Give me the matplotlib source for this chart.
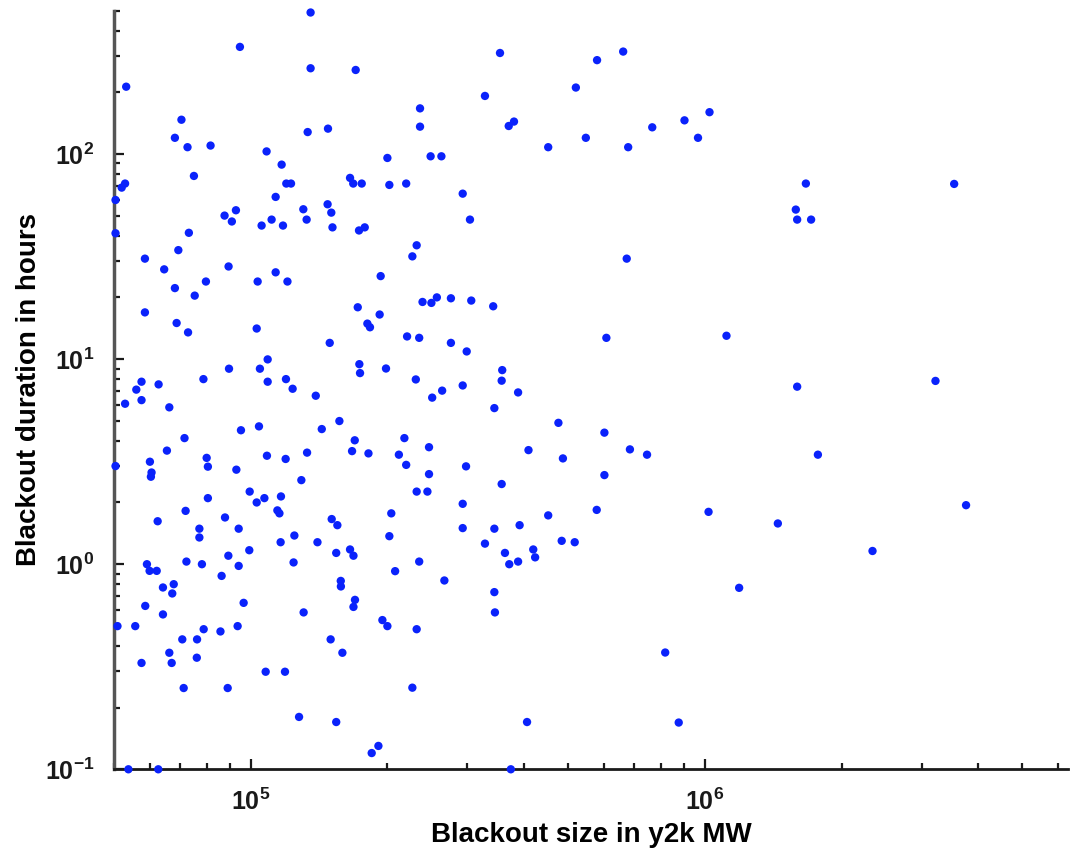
import matplotlib
matplotlib.use("Agg")
import matplotlib.pyplot as plt
from matplotlib.ticker import LogLocator, NullFormatter

plt.rcParams["font.family"] = ["Liberation Sans", "DejaVu Sans"]
plt.rcParams["font.weight"] = "bold"
plt.rcParams["axes.labelweight"] = "bold"
plt.rcParams["mathtext.fontset"] = "custom"
plt.rcParams["mathtext.rm"] = "Liberation Sans:bold"
plt.rcParams["mathtext.it"] = "Liberation Sans:bold:italic"
plt.rcParams["mathtext.bf"] = "Liberation Sans:bold"

# blackout size (y2k MW) and duration (hours)
blackout_size_mw = [
    135500, 94700, 135500, 53200, 70400, 68100, 72600, 81600, 133500, 148000,
    108400, 117000, 75000, 52900, 52000, 50400, 119800, 122700, 113500, 130600,
    132800, 147700, 150500, 151400, 87600, 92800, 90900, 105700, 111200, 117800,
    50400, 73100, 69300, 58500, 89400,
    354000, 170300, 328000, 236000, 236000, 370000, 380000, 452000, 200000, 249000,
    263000, 165500, 168200, 175600, 202000, 220000, 293000, 173200, 178300, 304000,
    232000, 227000,
    64500, 113500, 79700, 103600, 120500, 68100, 75300, 58500, 68700, 72800,
    103100, 149300, 109000, 89600, 104800, 57500, 62700, 78700, 109000, 119600,
    123700, 56000, 57500, 52900, 66200, 139100, 104300, 95200, 143400, 71500,
    65400, 133100, 108600, 119400, 80000, 80500, 60000, 60500, 60300, 50400,
    93000, 129300, 99500, 107200, 103100, 116600, 80500, 71900, 114500, 115700,
    87800, 62400, 150800,
    193300, 172100, 192300, 180700, 183100, 239000, 250000, 257000, 276000, 306000,
    342000, 221000, 235000, 276000, 299000, 173500, 174100, 198600, 231000, 264000,
    251000, 293000, 358000, 357000, 388000, 344000, 156800, 476000, 169500, 167200,
    181700, 218000, 212000, 220000, 247000, 409000, 487000, 298000, 247000, 357000,
    232000, 245000, 293000, 204000, 452000,
    77100, 77100, 94100, 116400, 124800, 140300, 154300, 99300, 89300, 72200,
    78100, 94100, 124300, 59100, 59900, 62100, 86300, 64100, 67700, 67200,
    58600, 96500, 64100, 130800, 50900, 55700, 78800, 85800, 93600, 70700,
    76200, 150000, 66200, 57500, 67000, 76100, 107900, 119000, 71200, 89000,
    127800, 154300, 53800, 62600,
    155200, 293000, 344000, 391000, 202000, 328000, 165500, 168400, 235000, 208000,
    363000, 371000, 388000, 419000, 423000, 484000, 267000, 157900, 158000, 344000,
    169700, 168400, 345000, 195000, 200000, 232000, 159200, 227000, 406000, 191100,
    184700, 374000,
    661000, 579000, 520000, 1024000, 902000, 766000, 547000, 678000, 966000, 1669000,
    1586000, 1597000, 1714000, 673000, 607000, 1116000, 1597000,
    601000, 601000, 684000, 746000, 578000, 1019000, 1448000, 517000, 1190000, 818000,
    876000,
    3540000, 3220000, 1774000, 3760000, 2340000,
]

duration_hours = [
    490, 333, 262, 213, 147, 120, 108, 110, 128, 133,
    103, 88.8, 78.2, 71.8, 68.6, 59.7, 71.8, 71.8, 61.8, 53.8,
    47.9, 56.9, 51.8, 43.9, 50.1, 53.2, 46.9, 44.8, 47.9, 44.8,
    41.1, 41.3, 34.0, 30.9, 28.3,
    311, 257, 192, 167, 136, 137, 144, 108, 95.7, 97.5,
    97.5, 76.5, 71.8, 71.8, 70.7, 71.8, 64.1, 42.4, 43.9, 47.9,
    35.9, 31.7,
    27.4, 26.5, 23.9, 23.9, 23.9, 22.2, 20.4, 16.9, 15.0, 13.5,
    14.1, 12.0, 9.97, 8.98, 8.98, 7.76, 7.53, 7.99, 7.76, 7.99,
    7.17, 7.10, 6.31, 6.06, 5.82, 6.63, 4.70, 4.50, 4.56, 4.12,
    3.58, 3.50, 3.38, 3.26, 3.30, 2.99, 3.16, 2.80, 2.67, 3.01,
    2.89, 2.57, 2.26, 2.10, 2.00, 2.14, 2.10, 1.82, 1.83, 1.77,
    1.69, 1.62, 1.66,
    25.4, 17.9, 16.5, 14.9, 14.3, 19.0, 18.8, 20.0, 19.8, 19.3,
    18.1, 12.9, 12.7, 12.0, 10.9, 9.45, 8.55, 9.0, 7.96, 7.02,
    6.49, 7.44, 8.84, 7.85, 6.88, 5.77, 4.99, 4.89, 4.02, 3.56,
    3.47, 4.12, 3.42, 3.05, 3.72, 3.60, 3.28, 3.00, 2.75, 2.46,
    2.26, 2.26, 1.97, 1.77, 1.73,
    1.49, 1.35, 1.49, 1.28, 1.38, 1.28, 1.135, 1.17, 1.10, 1.03,
    1.00, 0.981, 1.02, 1.00, 0.928, 0.928, 0.877, 0.770, 0.799, 0.720,
    0.626, 0.648, 0.569, 0.582, 0.499, 0.499, 0.482, 0.470, 0.499, 0.430,
    0.430, 0.430, 0.370, 0.330, 0.330, 0.350, 0.299, 0.299, 0.249, 0.249,
    0.180, 0.170, 0.1, 0.1,
    1.55, 1.50, 1.49, 1.55, 1.37, 1.26, 1.18, 1.10, 1.03, 0.925,
    1.135, 1.00, 1.03, 1.18, 1.08, 1.30, 0.833, 0.829, 0.779, 0.731,
    0.670, 0.619, 0.582, 0.534, 0.499, 0.482, 0.370, 0.250, 0.170, 0.130,
    0.120, 0.1,
    316, 287, 211, 160, 146, 135, 120, 108, 120, 71.8,
    53.6, 47.9, 47.9, 30.9, 12.7, 13.0, 7.34,
    4.38, 2.72, 3.63, 3.42, 1.84, 1.80, 1.58, 1.28, 0.767, 0.371,
    0.169,
    71.5, 7.83, 3.42, 1.94, 1.16,
]

x_limits = (5e4, 6.3e6)
y_limits = (0.1, 500)

fig = plt.figure(figsize=(10.7, 8.56), dpi=100)
ax = fig.add_axes([0.1065, 0.1013, 0.8915, 0.8862])

ax.scatter(blackout_size_mw, duration_hours, s=36, color="#0a22fb",
           edgecolors="none", clip_on=False, zorder=3)

ax.set_xscale("log")
ax.set_yscale("log")
ax.set_xlim(*x_limits)
ax.set_ylim(*y_limits)

ax.xaxis.set_major_locator(LogLocator(base=10, numticks=12))
ax.xaxis.set_minor_locator(LogLocator(base=10, subs=range(2, 10), numticks=12))
ax.yaxis.set_minor_locator(LogLocator(base=10, subs=range(2, 10), numticks=12))
ax.xaxis.set_minor_formatter(NullFormatter())
ax.yaxis.set_minor_formatter(NullFormatter())

# matlab-ish axes: only left/bottom, inward ticks
ax.spines["top"].set_visible(False)
ax.spines["right"].set_visible(False)
ax.spines["left"].set_linewidth(2.5)
ax.spines["left"].set_color("#555555")
ax.spines["bottom"].set_linewidth(2.0)
ax.spines["bottom"].set_color("#1a1a1a")

ax.tick_params(which="both", direction="in", top=False, right=False,
               colors="#1a1a1a", width=1.6)
ax.tick_params(which="major", length=7.5, labelsize=18)
ax.tick_params(axis="x", which="major", pad=14)
ax.tick_params(axis="y", which="major", pad=14)
ax.tick_params(which="minor", length=4)

ax.set_xlabel("Blackout size in y2k MW", fontsize=20, labelpad=5)
ax.set_ylabel("Blackout duration in hours", fontsize=20, labelpad=2)

fig.savefig("out.png", dpi=100)
